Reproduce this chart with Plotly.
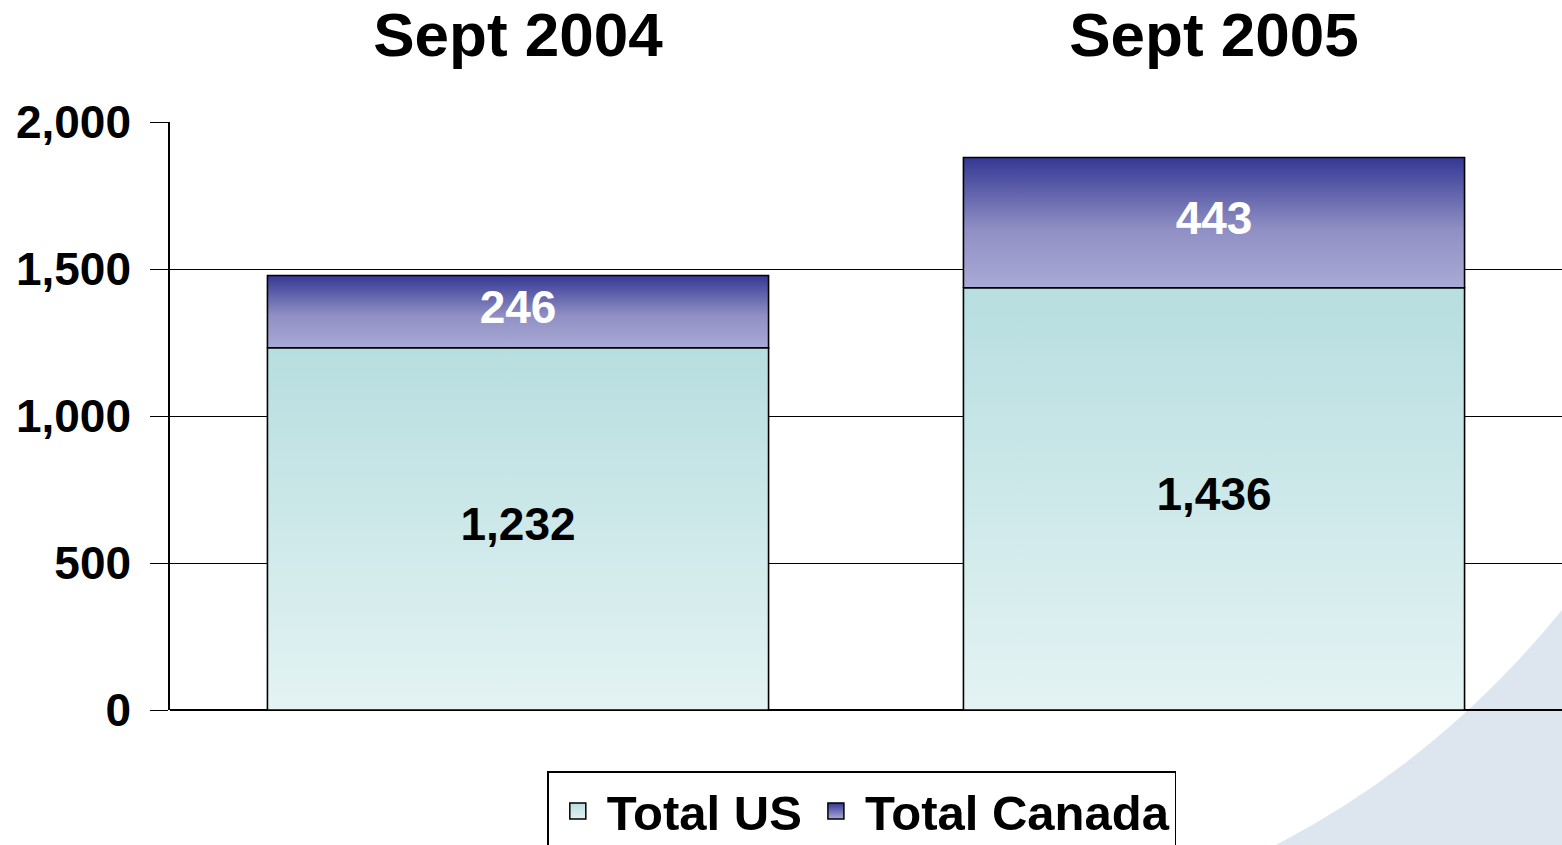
import plotly.graph_objects as go

categories = ["Sept 2004", "Sept 2005"]
total_us = [1232, 1436]
total_canada = [246, 443]
y_ticks = [0, 500, 1000, 1500, 2000]

BAR_W = 0.72
FONT = "Liberation Sans, Arial, sans-serif"

us_scale = [[0, "#e4f3f3"], [1, "#b7dee0"]]
ca_scale = [[0, "#aaaad6"], [0.45, "#8f8fc4"], [1, "#353894"]]

fig = go.Figure()

for i, cat in enumerate(categories):
    x0, x1 = i - BAR_W / 2, i + BAR_W / 2
    base = 0
    top = total_us[i]
    fig.add_trace(go.Scatter(
        x=[x0, x1, x1, x0, x0], y=[base, base, top, top, base],
        mode="lines", fill="toself",
        fillgradient=dict(type="vertical", colorscale=us_scale),
        line=dict(color="black", width=1.6),
        name="Total US", showlegend=False, hoverinfo="skip",
    ))
for i, cat in enumerate(categories):
    x0, x1 = i - BAR_W / 2, i + BAR_W / 2
    base = total_us[i]
    top = total_us[i] + total_canada[i]
    fig.add_trace(go.Scatter(
        x=[x0, x1, x1, x0, x0], y=[base, base, top, top, base],
        mode="lines", fill="toself",
        fillgradient=dict(type="vertical", colorscale=ca_scale),
        line=dict(color="black", width=1.6),
        name="Total Canada", showlegend=False, hoverinfo="skip",
    ))

# legend entries (square swatches)
fig.add_trace(go.Scatter(
    x=[None], y=[None], mode="markers", name="Total US",
    marker=dict(symbol="square", size=16, color="#b7dee0",
                gradient=dict(type="vertical", color="#e4f3f3"),
                line=dict(color="black", width=1.5)),
))
fig.add_trace(go.Scatter(
    x=[None], y=[None], mode="markers", name="Total Canada",
    marker=dict(symbol="square", size=16, color="#353894",
                gradient=dict(type="vertical", color="#aaaad6"),
                line=dict(color="black", width=1.5)),
))

# value labels
fig.add_trace(go.Scatter(
    x=list(range(len(categories))), y=[v / 2 for v in total_us],
    mode="text", text=[f"{v:,}" for v in total_us],
    textfont=dict(family=FONT, size=46, color="black", weight="bold"),
    showlegend=False, hoverinfo="skip",
))
fig.add_trace(go.Scatter(
    x=list(range(len(categories))),
    y=[u + c / 2 for u, c in zip(total_us, total_canada)],
    mode="text", text=[f"{v:,}" for v in total_canada],
    textfont=dict(family=FONT, size=46, color="white", weight="bold"),
    showlegend=False, hoverinfo="skip",
))

fig.update_layout(
    width=1562, height=845,
    margin=dict(l=170, r=0, t=122, b=135, autoexpand=False),
    paper_bgcolor="white", plot_bgcolor="rgba(0,0,0,0)",
    font=dict(family=FONT, color="black"),
    xaxis=dict(
        range=[-0.5, 1.5], side="top", automargin=False,
        tickvals=list(range(len(categories))), ticktext=categories,
        tickfont=dict(family=FONT, size=62, color="black", weight="bold"),
        showgrid=False, zeroline=False, showline=False, ticks="",
        ticklabelstandoff=53,
    ),
    yaxis=dict(
        range=[0, 2000], tickvals=y_ticks, tickformat=",", automargin=False,
        tickfont=dict(family=FONT, size=46, color="black", weight="bold"),
        showgrid=True, gridcolor="black", gridwidth=1.3,
        zeroline=True, zerolinecolor="black", zerolinewidth=1.5,
        showline=True, linecolor="black", linewidth=1.5,
        ticks="outside", ticklen=18, tickcolor="black", tickwidth=1.3,
        ticklabelstandoff=10,
    ),
    legend=dict(
        orientation="h", x=0.497, xanchor="center", y=-0.104, yanchor="top",
        bordercolor="black", borderwidth=1.5, bgcolor="white",
        font=dict(family=FONT, size=49, color="black", weight="bold"),
        itemsizing="trace", itemwidth=48,
    ),
    shapes=[dict(
        type="path", xref="paper", yref="paper", layer="below",
        path="M 0.7945,-0.2296 Q 0.9124,-0.085 1.0,0.1701 L 1.01,0.1701 L 1.01,-0.26 L 0.78,-0.26 Z",
        fillcolor="#dde6ef", line=dict(width=0),
    )],
)

fig.write_html(
    "out.html",
    config={"displayModeBar": False},
    post_script="document.body.style.margin='0';document.body.style.overflow='hidden';",
)
